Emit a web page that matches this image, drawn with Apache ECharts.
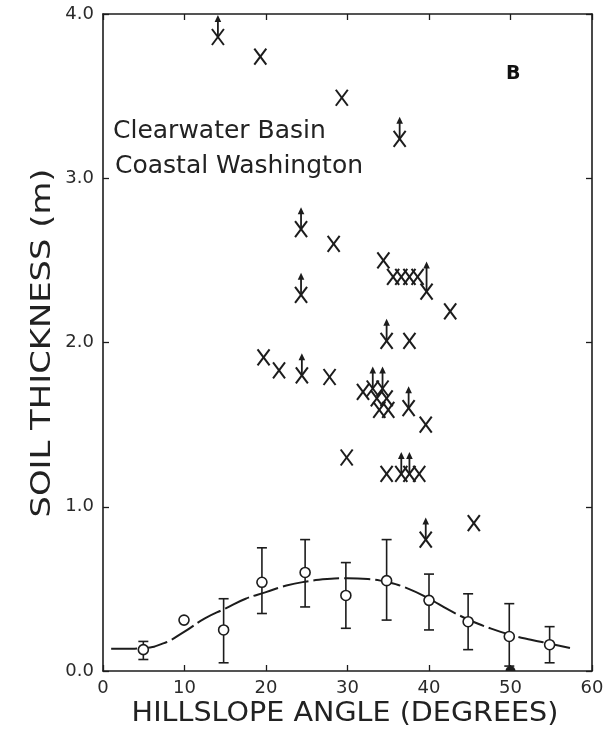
<!DOCTYPE html>
<html><head><meta charset="utf-8">
<script src="https://cdn.jsdelivr.net/npm/echarts@6/dist/echarts.min.js"></script>
<style>html,body{margin:0;padding:0;background:#fff}#c{width:608px;height:734px}</style>
</head><body><div id="c"></div>
<script>
// Field sites (X marks); arrow = 1 means thickness is a minimum (arrow up), 2 = long arrow
const crossX = [14.1, 19.3, 29.3, 36.4, 24.3, 28.3, 34.4, 35.6, 36.6, 37.6, 38.6, 39.7, 42.6, 24.3, 34.8, 37.6, 19.7, 21.6, 24.4, 27.8, 31.9, 33.1, 34.3, 33.6, 34.8, 33.9, 35.0, 37.5, 39.6, 29.9, 34.8, 36.6, 37.6, 38.8, 39.6, 45.5];
const crossY = [3.86, 3.74, 3.49, 3.24, 2.69, 2.60, 2.50, 2.40, 2.40, 2.40, 2.40, 2.31, 2.19, 2.29, 2.01, 2.01, 1.91, 1.83, 1.80, 1.79, 1.70, 1.72, 1.72, 1.66, 1.66, 1.59, 1.59, 1.60, 1.50, 1.30, 1.20, 1.20, 1.20, 1.20, 0.80, 0.90];
const crossArrow = [1, 0, 0, 1, 1, 0, 0, 0, 0, 0, 0, 2, 0, 1, 1, 0, 0, 0, 1, 0, 0, 1, 1, 0, 0, 0, 0, 1, 0, 0, 0, 1, 1, 0, 1, 0];

// Binned means with error bars (open circles)
const meanX = [4.95, 9.94, 14.8, 19.5, 24.8, 29.8, 34.8, 40.0, 44.8, 49.85, 54.8];
const meanY = [0.13, 0.31, 0.25, 0.54, 0.60, 0.46, 0.55, 0.43, 0.30, 0.21, 0.16];
const errLow = [0.07, null, 0.05, 0.35, 0.39, 0.26, 0.31, 0.25, 0.13, 0.03, 0.05];
const errHigh = [0.18, null, 0.44, 0.75, 0.80, 0.66, 0.80, 0.59, 0.47, 0.41, 0.27];

// Fitted curve (dashed)
const curveX = [1, 2.5, 5, 7.5, 10, 12.5, 15, 17.5, 20, 22.5, 25, 27.5, 30, 32.5, 35, 37.5, 40, 42.5, 45, 47.5, 50, 52.5, 55, 57.3];
const curveY = [0.135, 0.135, 0.14, 0.17, 0.24, 0.32, 0.38, 0.44, 0.48, 0.52, 0.545, 0.56, 0.565, 0.56, 0.54, 0.50, 0.44, 0.37, 0.31, 0.26, 0.22, 0.19, 0.165, 0.14];

// Zero-thickness site at 50 degrees
const zeroX = [50];
const zeroY = [0];

const xMin = 0, xMax = 60, xStep = 10;
const yMin = 0, yMax = 4, yStep = 1;

const xTitle = 'HILLSLOPE ANGLE (DEGREES)';
const yTitle = 'SOIL THICKNESS (m)';

const INK = '#1c1c1c';
const FONT = 'DejaVu Sans';

const chart = echarts.init(document.getElementById('c'));

function axisCommon(pos, showLabel) {
  return {
    position: pos,
    axisLine: { show: true, onZero: false, lineStyle: { color: INK, width: 1.6 } },
    axisTick: { show: true, inside: true, length: 6, lineStyle: { color: INK, width: 1.3 } },
    splitLine: { show: false },
    axisLabel: { show: showLabel, color: '#2a2a2a', fontFamily: FONT, fontSize: 18 }
  };
}

const yAxisMain = axisCommon('left', true);
yAxisMain.axisLabel.formatter = v => v.toFixed(1);
yAxisMain.axisLabel.margin = 9;

const option = {
  animation: false,
  backgroundColor: '#fff',
  grid: { left: 103, right: 16, top: 14, bottom: 63, containLabel: false },
  xAxis: [
    Object.assign(axisCommon('bottom', true), { type: 'value', min: xMin, max: xMax, interval: xStep }),
    Object.assign(axisCommon('top', false), { type: 'value', min: xMin, max: xMax, interval: xStep })
  ],
  yAxis: [
    Object.assign(yAxisMain, { type: 'value', min: yMin, max: yMax, interval: yStep }),
    Object.assign(axisCommon('right', false), { type: 'value', min: yMin, max: yMax, interval: yStep })
  ],
  series: [
    {
      type: 'line', smooth: true, symbol: 'none', z: 2,
      data: curveX.map((x, i) => [x, curveY[i]]),
      lineStyle: { color: INK, width: 2, type: [26, 5] }
    },
    {
      type: 'custom', z: 3,
      data: meanX.map((x, i) => [x, errLow[i], errHigh[i]]).filter(d => d[1] != null),
      renderItem: function (params, api) {
        const lo = api.coord([api.value(0), api.value(1)]);
        const hi = api.coord([api.value(0), api.value(2)]);
        const st = { stroke: INK, lineWidth: 1.6 };
        return { type: 'group', children: [
          { type: 'line', shape: { x1: lo[0], y1: lo[1], x2: hi[0], y2: hi[1] }, style: st },
          { type: 'line', shape: { x1: lo[0] - 5, y1: lo[1], x2: lo[0] + 5, y2: lo[1] }, style: st },
          { type: 'line', shape: { x1: hi[0] - 5, y1: hi[1], x2: hi[0] + 5, y2: hi[1] }, style: st }
        ]};
      }
    },
    {
      type: 'scatter', z: 4, symbol: 'circle', symbolSize: 10,
      data: meanX.map((x, i) => [x, meanY[i]]),
      itemStyle: { color: '#fff', borderColor: INK, borderWidth: 1.6, opacity: 1 }
    },
    {
      type: 'custom', z: 5,
      data: crossX.map((x, i) => [x, crossY[i], crossArrow[i]]),
      renderItem: function (params, api) {
        const p = api.coord([api.value(0), api.value(1)]);
        const a = api.value(2);
        const st = { stroke: INK, lineWidth: 2 };
        const ch = [
          { type: 'line', shape: { x1: p[0] - 6, y1: p[1] - 8, x2: p[0] + 6, y2: p[1] + 8 }, style: st },
          { type: 'line', shape: { x1: p[0] + 6, y1: p[1] - 8, x2: p[0] - 6, y2: p[1] + 8 }, style: st }
        ];
        if (a > 0) {
          const len = a > 1 ? 30 : 22;
          ch.push({ type: 'line', shape: { x1: p[0], y1: p[1] - 1, x2: p[0], y2: p[1] - len + 5 }, style: { stroke: INK, lineWidth: 1.8 } });
          ch.push({ type: 'polygon', shape: { points: [[p[0], p[1] - len], [p[0] - 3.3, p[1] - len + 7], [p[0] + 3.3, p[1] - len + 7]] }, style: { fill: INK } });
        }
        return { type: 'group', children: ch };
      }
    },
    {
      type: 'custom', z: 5, clip: true,
      data: zeroX.map((x, i) => [x, zeroY[i]]),
      renderItem: function (params, api) {
        const p = api.coord([api.value(0), api.value(1)]);
        return { type: 'circle', shape: { cx: p[0], cy: p[1], r: 5 }, style: { fill: INK } };
      }
    }
  ],
  graphic: [
    { type: 'text', x: 345, y: 714, scaleX: 1.1, style: { text: xTitle, fill: '#222', font: '26px "DejaVu Sans"', textAlign: 'center', textVerticalAlign: 'middle' } },
    { type: 'text', x: 43, y: 343, rotation: Math.PI / 2, scaleX: 1.3, style: { text: yTitle, fill: '#222', font: '26px "DejaVu Sans"', textAlign: 'center', textVerticalAlign: 'middle' } },
    { type: 'text', left: 113, top: 119, style: { text: 'Clearwater Basin', fill: '#222', font: '25px "DejaVu Sans"' } },
    { type: 'text', left: 115, top: 154, style: { text: 'Coastal Washington', fill: '#222', font: '25px "DejaVu Sans"' } },
    { type: 'text', left: 506, top: 65, style: { text: 'B', fill: '#111', font: 'bold 19px "DejaVu Sans"' } }
  ]
};
chart.setOption(option);
</script>
</body></html>
